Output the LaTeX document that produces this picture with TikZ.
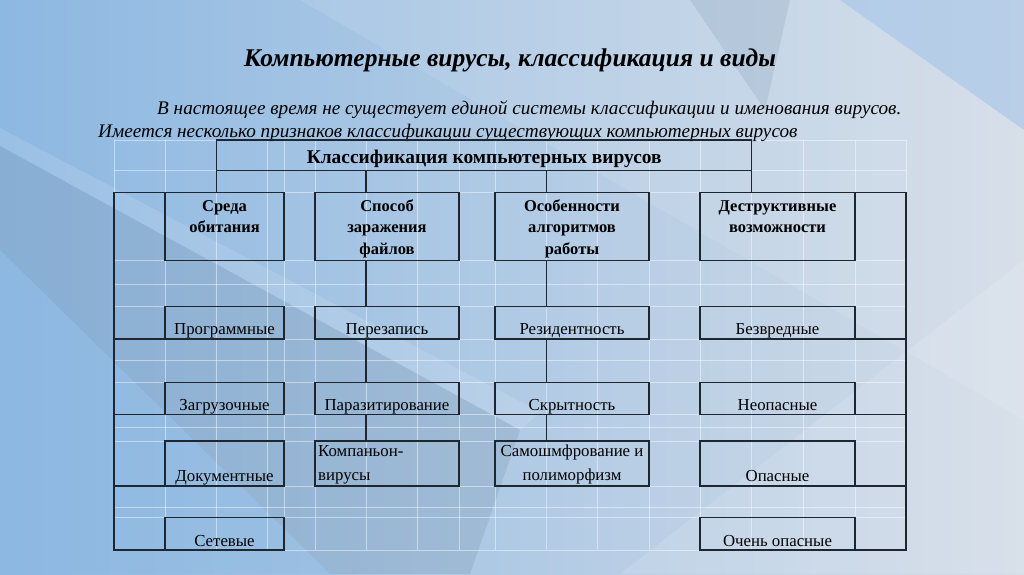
\documentclass[tikz,border=0pt]{standalone}
\usepackage{fontspec}
\setmainfont{Liberation Serif}
\usetikzlibrary{calc}
\definecolor{bgL}{HTML}{8DB8E2}
\definecolor{bgM}{HTML}{B2CCE6}
\definecolor{bgR}{HTML}{D3DCE7}
\definecolor{linec}{HTML}{1E2630}
\definecolor{band}{HTML}{7C96B0}
\definecolor{skyc}{HTML}{9CC0E8}
\newcommand\mkbox[5]{\node[box,minimum width={(#4)-(#2)},minimum height={(#5)-(#3)}] (#1) at (#2,#3) {};}
\begin{document}
\begin{tikzpicture}[x=1pt,y=-1pt,
  box/.style={draw=linec,line width=1.3pt,inner sep=0pt,outer sep=0pt,anchor=north west},
  conn/.style={draw=linec,line width=1.3pt},
  gridl/.style={draw=white,line width=0.8pt,opacity=0.45},
  hdr/.style={font=\bfseries\fontsize{16.5}{20}\selectfont,anchor=base,inner sep=0pt,text=black},
  itm/.style={font=\fontsize{16.8}{20}\selectfont,anchor=base,inner sep=0pt,text=black},
]
\useasboundingbox (0,0) rectangle (1024,574);
% background
\fill[left color=bgL,middle color=bgM,right color=bgR] (0,0) rectangle (1024,574);
\fill[white,opacity=0.10] (300,0) -- (1024,0) -- (1024,420) -- cycle;
\fill[skyc,opacity=0.5] (840,0) -- (1024,0) -- (1024,130) -- cycle;
\fill[band,opacity=0.22] (690,0) -- (790,0) -- (765,110) -- cycle;
\fill[white,opacity=0.12] (0,128) -- (0,146) -- (520,430) -- (540,412) -- cycle;
\fill[band,opacity=0.28] (0,146) -- (520,430) -- (470,574) -- (330,574) -- (0,250) -- cycle;
\fill[bgL,opacity=0.35] (0,250) -- (330,574) -- (0,574) -- cycle;
\fill[white,opacity=0.12] (620,574) -- (1024,260) -- (1024,574) -- cycle;
% faint table grid
\foreach \gx in {114,165,216.7,267,284,315,366,417,459,495,546.7,597,649,700,751.7,803,855,906}
  \draw[gridl] (\gx,140) -- (\gx,550);
\foreach \gy in {140,170.7,192.7,260.7,284,306.7,339,360,382.3,414.3,427,441,486,507,517.7,550}
  \draw[gridl] (114,\gy) -- (906,\gy);
% title
\node[font=\bfseries\itshape\fontsize{25.5}{30}\selectfont,anchor=base,inner sep=0pt] (title) at (510,66.7) {Компьютерные вирусы, классификация и виды};
\node[font=\itshape\fontsize{19.2}{23}\selectfont,anchor=base west,inner sep=0pt] (sub1) at (157,114.6) {В настоящее время не существует единой системы классификации и именования вирусов.};
\node[font=\itshape\fontsize{19.2}{23}\selectfont,anchor=base west,inner sep=0pt] (sub2) at (98,137.3) {Имеется несколько признаков классификации существующих компьютерных вирусов};
% boxes
\mkbox{top}{216.7}{140}{751.7}{170.7}
\mkbox{sreda}{165}{192.7}{284}{260.7}
\mkbox{sposob}{315}{192.7}{459}{260.7}
\mkbox{osob}{495}{192.7}{649}{260.7}
\mkbox{destr}{700}{192.7}{855}{260.7}
\mkbox{prog}{165}{306.7}{284}{339}
\mkbox{perez}{315}{306.7}{459}{339}
\mkbox{rezid}{495}{306.7}{649}{339}
\mkbox{bezvr}{700}{306.7}{855}{339}
\mkbox{zagr}{165}{382.3}{284}{414.3}
\mkbox{paraz}{315}{382.3}{459}{414.3}
\mkbox{skryt}{495}{382.3}{649}{414.3}
\mkbox{neop}{700}{382.3}{855}{414.3}
\mkbox{dokum}{165}{441}{284}{486}
\mkbox{kompan}{315}{441}{459}{486}
\mkbox{samo}{495}{441}{649}{486}
\mkbox{opas}{700}{441}{855}{486}
\mkbox{setev}{165}{517.7}{284}{550}
\mkbox{ochen}{700}{517.7}{855}{550}
% texts
\node[hdr,font=\bfseries\fontsize{19.4}{22}\selectfont] (topt) at ($(top.north)+(0,23.6)$) {Классификация компьютерных вирусов};
\node[hdr] (sreda1) at ($(sreda.north)+(0,18.3)$) {Среда};
\node[hdr] (sreda2) at ($(sreda.north)+(0,39.3)$) {обитания};
\node[hdr] (sposob1) at ($(sposob.north)+(0,18.3)$) {Способ};
\node[hdr] (sposob2) at ($(sposob.north)+(0,39.8)$) {заражения};
\node[hdr] (sposob3) at ($(sposob.north)+(0,61.3)$) {файлов};
\node[hdr] (osob1) at ($(osob.north)+(0,18.3)$) {Особенности};
\node[hdr] (osob2) at ($(osob.north)+(0,39.8)$) {алгоритмов};
\node[hdr] (osob3) at ($(osob.north)+(0,61.3)$) {работы};
\node[hdr] (destr1) at ($(destr.north)+(0,18.3)$) {Деструктивные};
\node[hdr] (destr2) at ($(destr.north)+(0,39.3)$) {возможности};
\node[itm] (progt) at ($(prog.south)+(0,-4.5)$) {Программные};
\node[itm] (perezt) at ($(perez.south)+(0,-4.5)$) {Перезапись};
\node[itm] (rezidt) at ($(rezid.south)+(0,-4.5)$) {Резидентность};
\node[itm] (bezvrt) at ($(bezvr.south)+(0,-4.5)$) {Безвредные};
\node[itm] (zagrt) at ($(zagr.south)+(0,-4.3)$) {Загрузочные};
\node[itm] (parazt) at ($(paraz.south)+(0,-4.3)$) {Паразитирование};
\node[itm] (skrytt) at ($(skryt.south)+(0,-4.3)$) {Скрытность};
\node[itm] (neopt) at ($(neop.south)+(0,-4.3)$) {Неопасные};
\node[itm] (dokumt) at ($(dokum.south)+(0,-4.3)$) {Документные};
\node[itm,anchor=base west] (kompan1) at ($(kompan.north west)+(3,15.7)$) {Компаньон-};
\node[itm,anchor=base west] (kompan2) at ($(kompan.north west)+(3,39.7)$) {вирусы};
\node[itm] (samo1) at ($(samo.north)+(0,15.7)$) {Самошмфрование и};
\node[itm] (samo2) at ($(samo.north)+(0,39.5)$) {полиморфизм};
\node[itm] (opast) at ($(opas.south)+(0,-4.3)$) {Опасные};
\node[itm] (setevt) at ($(setev.south)+(0,-3.5)$) {Сетевые};
\node[itm] (ochent) at ($(ochen.south)+(0,-3.5)$) {Очень опасные};
% connectors
\coordinate (kB) at (366,0);
\coordinate (kC) at (546.7,0);
\coordinate (kL) at (114,0);
\coordinate (kR) at (906,0);
\draw[conn] (top.south west) -- (top.south west |- sreda.north);
\draw[conn] (top.south -| kB) -- (sposob.north -| kB);
\draw[conn] (top.south -| kC) -- (osob.north -| kC);
\draw[conn] (top.south east) -- (top.south east |- destr.north);
\draw[conn] (sreda.north west) -- (sreda.north west -| kL) -- (setev.south west -| kL) -- (setev.south west);
\draw[conn] (prog.south west) -- (prog.south west -| kL);
\draw[conn] (zagr.south west) -- (zagr.south west -| kL);
\draw[conn] (dokum.south west) -- (dokum.south west -| kL);
\draw[conn] (destr.north east) -- (destr.north east -| kR) -- (ochen.south east -| kR) -- (ochen.south east);
\draw[conn] (bezvr.south east) -- (bezvr.south east -| kR);
\draw[conn] (neop.south east) -- (neop.south east -| kR);
\draw[conn] (opas.south east) -- (opas.south east -| kR);
\draw[conn] (sposob.south -| kB) -- (perez.north -| kB);
\draw[conn] (perez.south -| kB) -- (paraz.north -| kB);
\draw[conn] (paraz.south -| kB) -- (kompan.north -| kB);
\draw[conn] (osob.south -| kC) -- (rezid.north -| kC);
\draw[conn] (rezid.south -| kC) -- (skryt.north -| kC);
\draw[conn] (skryt.south -| kC) -- (samo.north -| kC);
\end{tikzpicture}
\end{document}
